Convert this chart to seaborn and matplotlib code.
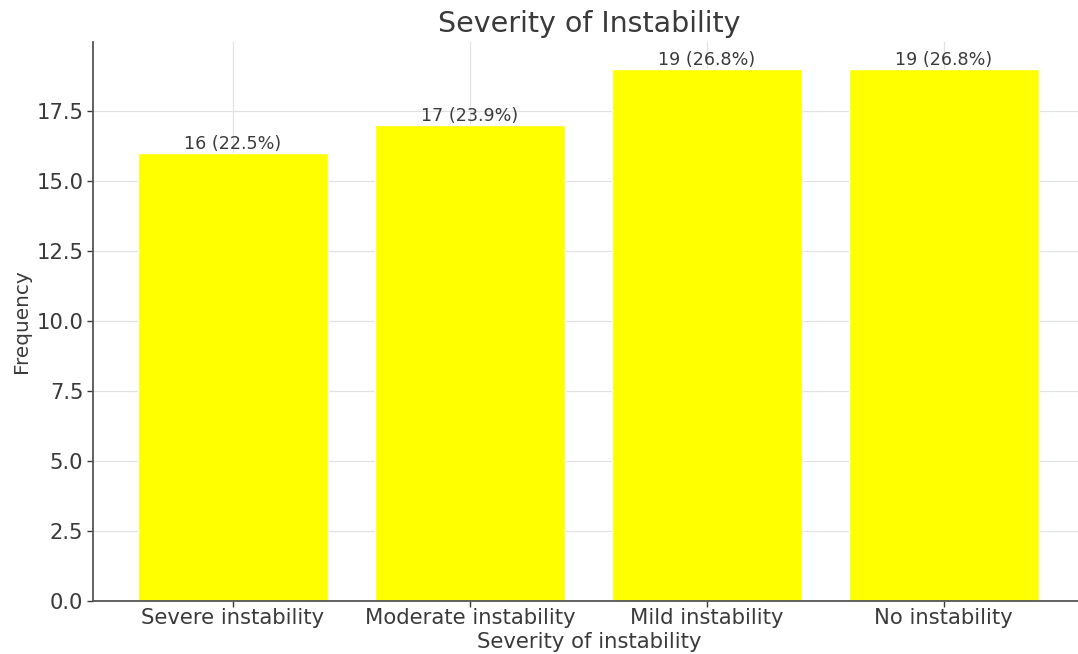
import matplotlib
matplotlib.use("Agg")
import matplotlib.pyplot as plt
import seaborn as sns
import pandas as pd

categories = ["Severe instability", "Moderate instability", "Mild instability", "No instability"]
counts = [16, 17, 19, 19]
percents = [22.5, 23.9, 26.8, 26.8]

sns.set_theme(style="whitegrid")
plt.rcParams["font.family"] = ["DejaVu Sans"]

df = pd.DataFrame({"Severity": categories, "Frequency": counts})

fig, ax = plt.subplots(figsize=(10.78, 6.54), dpi=100)
fig.subplots_adjust(left=93 / 1078, right=1086 / 1078, top=1 - 42 / 654, bottom=53 / 654)

sns.barplot(data=df, x="Severity", y="Frequency", color="#ffff00",
            saturation=1, width=0.8, ax=ax, zorder=2)

for i, (c, p) in enumerate(zip(counts, percents)):
    ax.text(i, c, f"{c} ({p}%)", ha="center", va="bottom",
            fontsize=12.6, color="#3a3a3a")

ax.set_xlim(-0.59, 3.60)
ax.set_ylim(0, 19.95)
ax.set_yticks([0, 2.5, 5, 7.5, 10, 12.5, 15, 17.5])
ax.set_yticklabels(["0.0", "2.5", "5.0", "7.5", "10.0", "12.5", "15.0", "17.5"])

ax.set_title("Severity of Instability", fontsize=20.5, color="#3a3a3a", pad=7)
ax.set_xlabel("Severity of instability", fontsize=15.2, color="#3a3a3a", labelpad=3)
ax.set_ylabel("Frequency", fontsize=14.4, color="#3a3a3a", labelpad=4)

ax.set_facecolor("white")
ax.grid(True, color="#e2e2e2", linewidth=0.9, zorder=0)
ax.set_axisbelow(True)
for side in ["top", "right"]:
    ax.spines[side].set_visible(False)
for side in ["left", "bottom"]:
    ax.spines[side].set_color("#555555")
    ax.spines[side].set_linewidth(1.3)
ax.tick_params(axis="both", labelsize=15.2, colors="#3a3a3a", length=4,
               width=1, direction="out", left=True, bottom=True, pad=1)
ax.tick_params(axis="y", pad=3)

fig.savefig("out.png", dpi=100)
